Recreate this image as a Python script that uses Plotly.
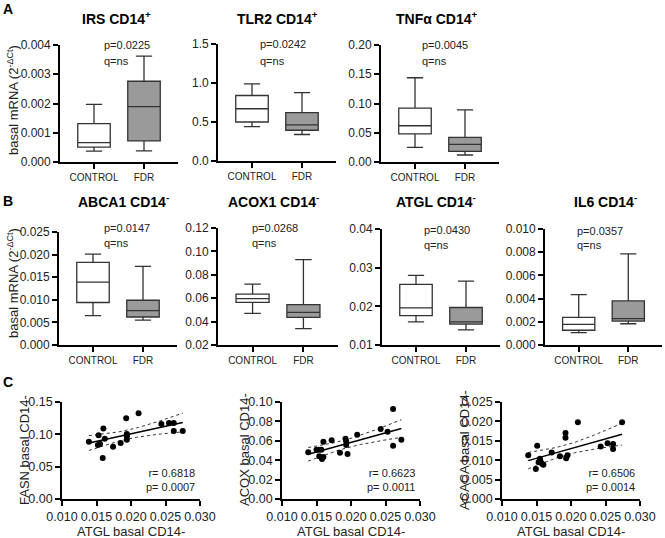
import numpy as np
import plotly.graph_objects as go

W, H = 665, 538
FONT = "Liberation Sans, Arial, sans-serif"

# ---------------- data ----------------
groups = ["CONTROL", "FDR"]
# each: [lowerfence, q1, median, q3, upperfence]
irs_ctrl = [0.00037, 0.00051, 0.00066, 0.00131, 0.00197]
irs_fdr = [0.00038, 0.00072, 0.00189, 0.00276, 0.00362]
tlr2_ctrl = [0.44, 0.50, 0.67, 0.84, 0.99]
tlr2_fdr = [0.34, 0.394, 0.462, 0.62, 0.877]
tnfa_ctrl = [0.025, 0.048, 0.062, 0.092, 0.144]
tnfa_fdr = [0.012, 0.018, 0.030, 0.042, 0.089]
abca1_ctrl = [0.0065, 0.0094, 0.0139, 0.0183, 0.0201]
abca1_fdr = [0.0055, 0.0062, 0.0076, 0.0099, 0.0174]
acox1_ctrl = [0.047, 0.0564, 0.0597, 0.0635, 0.072]
acox1_fdr = [0.034, 0.0436, 0.0479, 0.0545, 0.093]
atgl_ctrl = [0.0160, 0.0176, 0.0196, 0.0257, 0.0280]
atgl_fdr = [0.0139, 0.0154, 0.0160, 0.0197, 0.0265]
il6_ctrl = [0.00107, 0.00127, 0.00177, 0.00239, 0.00434]
il6_fdr = [0.00183, 0.00206, 0.00228, 0.0038, 0.00786]

box_titles = ["IRS CD14<sup>+</sup>", "TLR2 CD14<sup>+</sup>", "TNFα CD14<sup>+</sup>",
              "ABCA1 CD14<sup>-</sup>", "ACOX1 CD14<sup>-</sup>", "ATGL CD14<sup>-</sup>", "IL6 CD14<sup>-</sup>"]
p_texts = ["p=0.0225", "p=0.0242", "p=0.0045", "p=0.0147", "p=0.0268", "p=0.0430", "p=0.0357"]

fasn_x = [0.0139, 0.0152, 0.0153, 0.0155, 0.0160, 0.0159, 0.0162, 0.0174, 0.0185, 0.0193,
          0.0194, 0.0194, 0.0194, 0.0211, 0.0244, 0.0255, 0.0262, 0.0262, 0.0275]
fasn_y = [0.0887, 0.0835, 0.0985, 0.0856, 0.109, 0.0634, 0.0933, 0.0809, 0.0866, 0.1247,
          0.0969, 0.0918, 0.1005, 0.1325, 0.116, 0.1175, 0.1175, 0.105, 0.105]
acox_x = [0.0138, 0.0150, 0.0153, 0.0154, 0.0157, 0.0158, 0.0160, 0.0160, 0.0172, 0.0184,
          0.0192, 0.0193, 0.0193, 0.0195, 0.0209, 0.0243, 0.0253, 0.0261, 0.0261, 0.0273]
acox_y = [0.0481, 0.0509, 0.0509, 0.044, 0.0509, 0.0412, 0.0433, 0.0591, 0.0605, 0.0478,
          0.0622, 0.0595, 0.0557, 0.0464, 0.0663, 0.0722, 0.0694, 0.0928, 0.055, 0.0612]
acaca_x = [0.0138, 0.0149, 0.0151, 0.0153, 0.0155, 0.0156, 0.0158, 0.0160, 0.0172, 0.0184,
           0.0192, 0.0192, 0.0193, 0.0195, 0.0210, 0.0243, 0.0253, 0.0261, 0.0261, 0.0274]
acaca_y = [0.0113, 0.0077, 0.0137, 0.0095, 0.0104, 0.0096, 0.0091, 0.0088, 0.0120, 0.0110,
           0.0170, 0.0158, 0.0105, 0.0113, 0.0198, 0.0135, 0.0144, 0.0142, 0.0129, 0.0198]
r_texts = ["r= 0.6818<br>p= 0.0007", "r= 0.6623<br>p= 0.0011", "r= 0.6506<br>p= 0.0014"]
scatter_ytitles = ["FASN basal CD14-", "ACOX basal CD14-", "ACACA basal CD14-"]

# ---------------- layout helpers ----------------
def xd(a, b):
    return [a / W, b / W]

def yd(top, bottom):
    return [1 - bottom / H, 1 - top / H]

def px(x):
    return x / W

def py(y):
    return 1 - y / H

fig = go.Figure()
annotations = []

# box panels: (ctrl, fdr, xdomain px, ydomain px, yrange, dtick, fmt)
box_panels = [
    (irs_ctrl, irs_fdr, (60, 178), (45, 162), (0, 0.004), 0.001, ".3f"),
    (tlr2_ctrl, tlr2_fdr, (218, 336), (44, 161), (0, 1.5), 0.5, ".1f"),
    (tnfa_ctrl, tnfa_fdr, (381, 499), (45, 162), (0, 0.20), 0.05, ".2f"),
    (abca1_ctrl, abca1_fdr, (59, 177), (232, 345), (0, 0.025), 0.005, ".3f"),
    (acox1_ctrl, acox1_fdr, (218, 338), (228, 345), (0.02, 0.12), 0.02, ".2f"),
    (atgl_ctrl, atgl_fdr, (382, 500), (229, 345), (0.01, 0.04), 0.01, ".2f"),
    (il6_ctrl, il6_fdr, (545, 662), (229, 345), (0, 0.010), 0.002, ".3f"),
]
title_pos = [(116, 18), (277, 18), (437, 18), (123, 201), (273, 201), (436, 201), (605, 201)]
p_pos = [(102, 45, 61), (258, 44, 61), (420, 45, 61), (102, 228, 243), (250, 228, 243),
         (422, 230, 245), (575, 231, 245)]

axis_common = dict(showgrid=False, zeroline=False, showline=True, linecolor="black",
                   linewidth=1.8, ticks="outside", ticklen=5, tickwidth=1.5, tickcolor="black",
                   automargin=False, tickangle=0)

layout = {}
n = 0
for i, (c, f, xdom, ydom, yr, dt, fmt) in enumerate(box_panels):
    n += 1
    xa = "x" if n == 1 else f"x{n}"
    ya = "y" if n == 1 else f"y{n}"
    for g, vals, col in [("CONTROL", c, "white"), ("FDR", f, "#9a9a9a")]:
        fig.add_trace(go.Box(
            x=[g], lowerfence=[vals[0]], q1=[vals[1]], median=[vals[2]], q3=[vals[3]],
            upperfence=[vals[4]], fillcolor=col, line=dict(color="#333333", width=1.3),
            width=0.65, whiskerwidth=0.5, boxpoints=False, xaxis=xa, yaxis=ya,
            showlegend=False, hoverinfo="skip"))
    layout["xaxis" if n == 1 else f"xaxis{n}"] = dict(
        domain=xd(*xdom), anchor=ya, type="category", categoryorder="array",
        categoryarray=groups, range=[-0.68, 1.68],
        tickfont=dict(size=10, color="#222222", family=FONT), **axis_common)
    layout["yaxis" if n == 1 else f"yaxis{n}"] = dict(
        domain=yd(*ydom), anchor=xa, range=list(yr), dtick=dt, tick0=yr[0], tickformat=fmt,
        tickfont=dict(size=12, color="#222222", family=FONT), **axis_common)
    tx, tyy = title_pos[i]
    annotations.append(dict(x=px(tx), y=py(tyy), xref="paper", yref="paper", text="<b>" + box_titles[i] + "</b>",
                            showarrow=False, font=dict(size=14, color="black", family=FONT),
                            xanchor="center", yanchor="middle"))
    ppx, ppy, pqy = p_pos[i]
    annotations.append(dict(x=px(ppx), y=py(ppy), xref="paper", yref="paper", text=p_texts[i],
                            showarrow=False, font=dict(size=11, color="#222222", family=FONT),
                            xanchor="left", yanchor="middle"))
    annotations.append(dict(x=px(ppx), y=py(pqy), xref="paper", yref="paper", text="q=ns",
                            showarrow=False, font=dict(size=11, color="#222222", family=FONT),
                            xanchor="left", yanchor="middle"))

# scatter panels
scatter_panels = [
    (fasn_x, fasn_y, (62, 200), (402, 499), (0, 0.15), 0.05, ".2f"),
    (acox_x, acox_y, (282, 420), (402, 499), (0, 0.10), 0.02, ".2f"),
    (acaca_x, acaca_y, (502, 640), (402, 499), (0, 0.025), 0.005, ".3f"),
]
T_CRIT = 2.11
for j, (sx, sy, xdom, ydom, yr, dt, fmt) in enumerate(scatter_panels):
    n += 1
    xa, ya = f"x{n}", f"y{n}"
    xarr, yarr = np.array(sx), np.array(sy)
    slope, icpt = np.polyfit(xarr, yarr, 1)
    xs = np.linspace(xarr.min(), xarr.max(), 60)
    yfit = slope * xs + icpt
    nn = len(xarr)
    resid = yarr - (slope * xarr + icpt)
    s = np.sqrt(np.sum(resid ** 2) / (nn - 2))
    se = s * np.sqrt(1 / nn + (xs - xarr.mean()) ** 2 / np.sum((xarr - xarr.mean()) ** 2))
    for yy in (yfit + T_CRIT * se, yfit - T_CRIT * se):
        fig.add_trace(go.Scatter(x=xs, y=yy, mode="lines", line=dict(color="#333333", width=1, dash="dot"),
                                 xaxis=xa, yaxis=ya, showlegend=False, hoverinfo="skip"))
    fig.add_trace(go.Scatter(x=xs, y=yfit, mode="lines", line=dict(color="black", width=1.5),
                             xaxis=xa, yaxis=ya, showlegend=False, hoverinfo="skip"))
    fig.add_trace(go.Scatter(x=sx, y=sy, mode="markers", marker=dict(color="black", size=6),
                             xaxis=xa, yaxis=ya, showlegend=False, hoverinfo="skip"))
    layout[f"xaxis{n}"] = dict(domain=xd(*xdom), anchor=ya, range=[0.010, 0.030], dtick=0.005,
                               tick0=0.010, tickformat=".3f",
                               tickfont=dict(size=12.5, color="#222222", family=FONT), **axis_common)
    layout[f"yaxis{n}"] = dict(domain=yd(*ydom), anchor=xa, range=list(yr), dtick=dt, tick0=0,
                               tickformat=fmt, tickfont=dict(size=12.5, color="#222222", family=FONT),
                               **axis_common)
    cx = (xdom[0] + xdom[1]) / 2
    annotations.append(dict(x=px(cx), y=py(531), xref="paper", yref="paper", text="ATGL basal CD14-",
                            showarrow=False, font=dict(size=13, color="#222222", family=FONT),
                            xanchor="center", yanchor="middle"))
    annotations.append(dict(x=px(xdom[0] - 38), y=py(450), xref="paper", yref="paper",
                            text=scatter_ytitles[j], textangle=-90, showarrow=False,
                            font=dict(size=13, color="#222222", family=FONT),
                            xanchor="center", yanchor="middle"))
    annotations.append(dict(x=px(xdom[1] - 3), y=py(480), xref="paper", yref="paper", text=r_texts[j],
                            showarrow=False, align="right",
                            font=dict(size=11, color="#222222", family=FONT),
                            xanchor="right", yanchor="middle"))

# y-axis titles rows A, B
for cy in (100, 283):
    annotations.append(dict(x=px(13), y=py(cy), xref="paper", yref="paper",
                            text="basal mRNA (2<sup>-ΔCt</sup>)", textangle=-90, showarrow=False,
                            font=dict(size=13, color="#222222", family=FONT),
                            xanchor="center", yanchor="middle"))
# panel letters
for letter, lx, ly in [("A", 8, 9), ("B", 8, 201), ("C", 8, 382)]:
    annotations.append(dict(x=px(lx), y=py(ly), xref="paper", yref="paper", text="<b>" + letter + "</b>",
                            showarrow=False, font=dict(size=14, color="black", family=FONT),
                            xanchor="center", yanchor="middle"))

fig.update_layout(width=W, height=H, margin=dict(l=0, r=0, t=0, b=0, pad=0, autoexpand=False),
                  paper_bgcolor="white", plot_bgcolor="white", showlegend=False,
                  font=dict(family=FONT), annotations=annotations, **layout)
fig.write_html("out.html", config={"displayModeBar": False},
               post_script="document.body.style.margin='0';document.body.style.overflow='hidden';")
